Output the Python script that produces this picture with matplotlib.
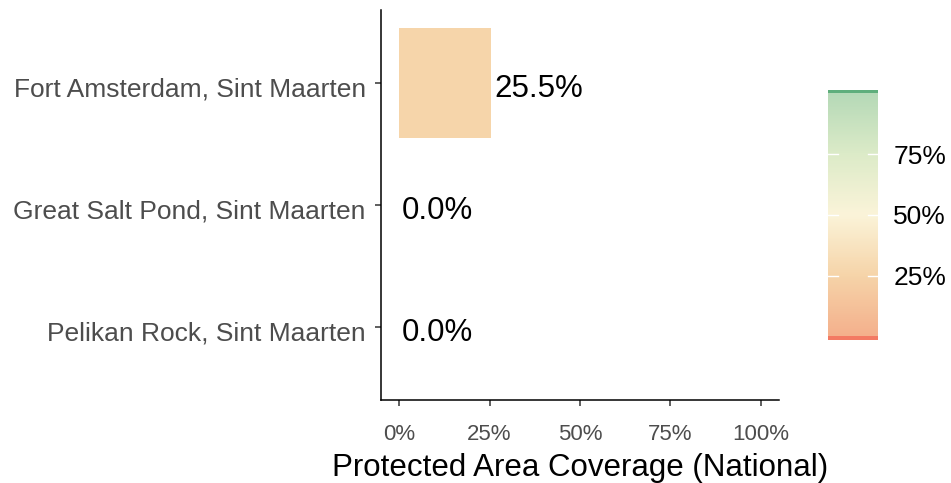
import matplotlib
matplotlib.use("Agg")
import matplotlib.pyplot as plt
import numpy as np
from matplotlib.colors import LinearSegmentedColormap, Normalize
from matplotlib.transforms import ScaledTranslation

plt.rcParams['font.family'] = ['Liberation Sans', 'DejaVu Sans']

sites = ["Fort Amsterdam, Sint Maarten", "Great Salt Pond, Sint Maarten", "Pelikan Rock, Sint Maarten"]
coverage = [25.5, 0.0, 0.0]
xticks = [0, 25, 50, 75, 100]
cbar_ticks = [25, 50, 75]

cmap = LinearSegmentedColormap.from_list("cov", [
    (0.0, "#f4b08c"), (0.25, "#f6d4a9"), (0.5, "#fbf4d9"),
    (0.75, "#dcebc8"), (1.0, "#b5d9b7")])
cmap.set_under("#f37a63")
cmap.set_over("#5fae7c")
norm = Normalize(0, 100)

fig = plt.figure(figsize=(9.51, 4.83), dpi=100)
ax = fig.add_axes([381/951, 1-400/483, (779-381)/951, 390/483])

down6 = ScaledTranslation(0, -6/100, fig.dpi_scale_trans)
ypos = np.arange(len(sites))[::-1] + 1
for y, v in zip(ypos, coverage):
    if v > 0:
        ax.barh(y, v, height=0.9, color=cmap(norm(v)), edgecolor='none')
    ax.text(v + 0.8, y, f"{v:.1f}%", va='center', ha='left', fontsize=22.5, color='black',
            transform=ax.transData + down6)

ax.set_xlim(-5, 105)
ax.set_ylim(0.4, 3.6)
ax.set_yticks(ypos)
ax.set_yticklabels(sites, fontsize=19, color='#4d4d4d')
ax.set_xticks(xticks)
ax.set_xticklabels([f"{t}%" for t in xticks], fontsize=16, color='#4d4d4d')
ax.set_xlabel("Protected Area Coverage (National)", fontsize=22.5, color='black', labelpad=6)
for s in ['top', 'right']:
    ax.spines[s].set_visible(False)
for s in ['left', 'bottom']:
    ax.spines[s].set_color('black')
    ax.spines[s].set_linewidth(1.1)
ax.tick_params(axis='both', length=4, width=1.1, color='#333333')
ax.tick_params(axis='x', pad=13)
ax.tick_params(axis='y', pad=7)
down4 = ScaledTranslation(0, -4/100, fig.dpi_scale_trans)
for lab in ax.get_yticklabels():
    lab.set_transform(lab.get_transform() + down4)

cax = fig.add_axes([828/951, 1-340/483, 50/951, 250/483])
grad = np.linspace(-1.3, 101.3, 500).reshape(-1, 1)
cax.imshow(grad, aspect='auto', cmap=cmap, norm=norm, origin='lower', extent=[0, 1, -1.3, 101.3],
           interpolation='nearest')
cax.set_xlim(0, 1)
cax.set_ylim(-1.3, 101.3)
cax.set_xticks([])
cax.yaxis.tick_right()
cax.set_yticks(cbar_ticks)
cax.set_yticklabels([f"{t}%" for t in cbar_ticks], fontsize=19, color='black')
cax.tick_params(axis='y', length=0, pad=11)
for t in cbar_ticks:
    cax.plot([0, 0.2], [t, t], color='white', lw=1)
    cax.plot([0.8, 1], [t, t], color='white', lw=1)
for s in cax.spines.values():
    s.set_visible(False)

fig.savefig("out.png", dpi=100)
